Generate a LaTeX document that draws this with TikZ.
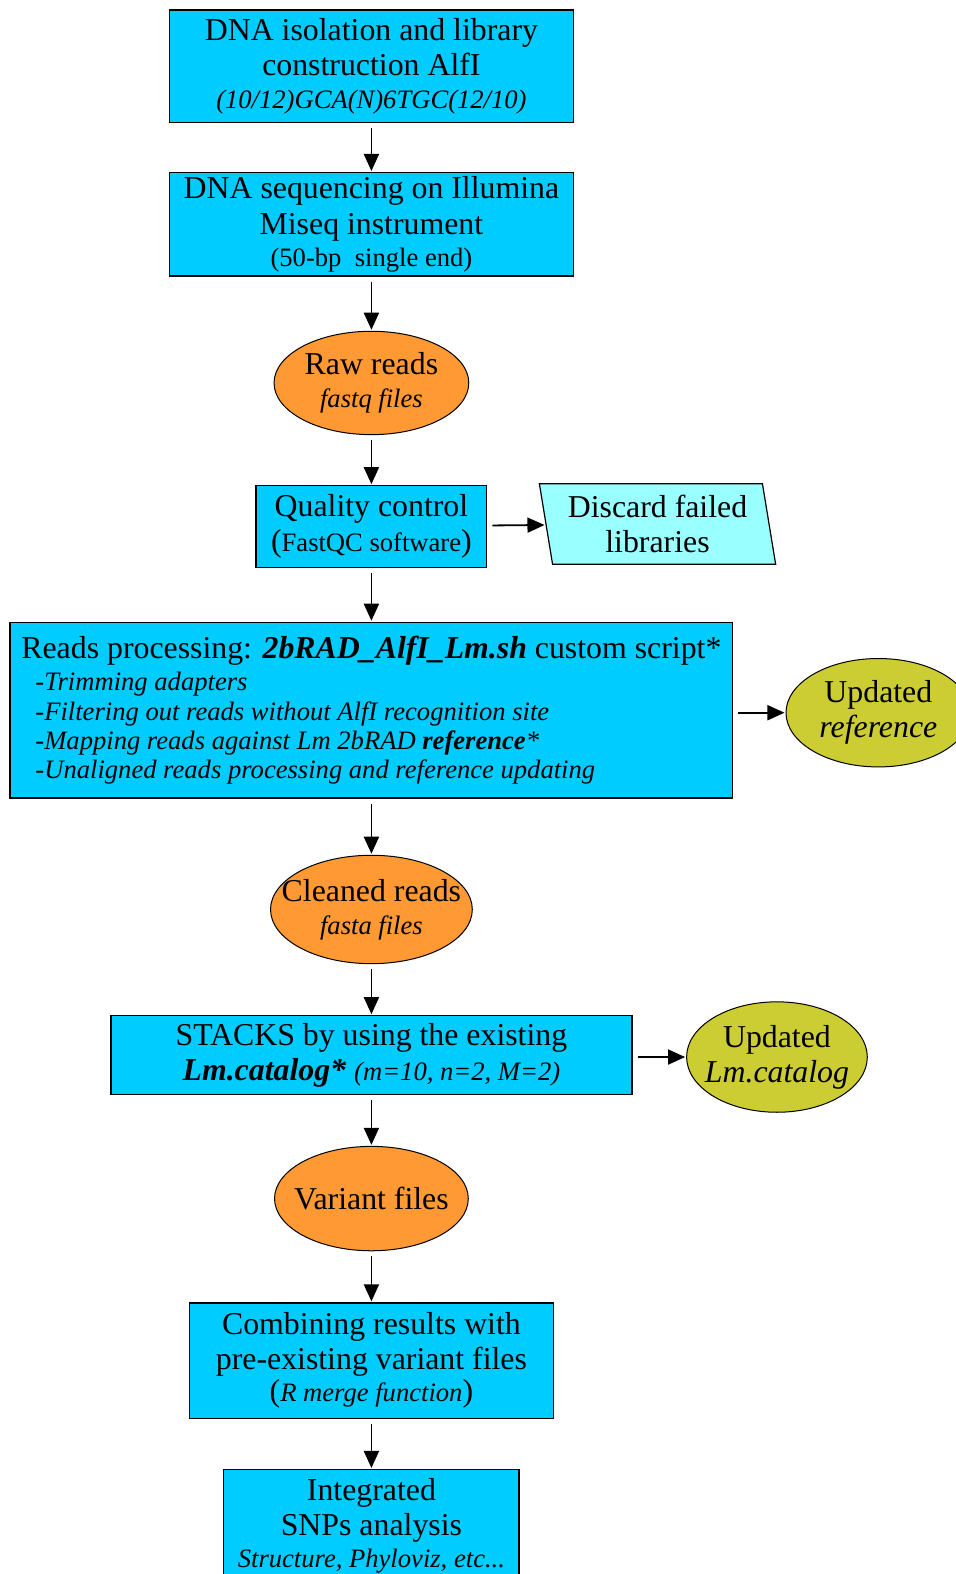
\documentclass[tikz,border=0pt]{standalone}
\usepackage{fontspec}
\setmainfont{Liberation Serif}
\usetikzlibrary{shapes.geometric,arrows.meta}
\definecolor{boxblue}{HTML}{00CCFF}
\definecolor{readorange}{HTML}{FF9933}
\definecolor{updolive}{HTML}{CCCC33}
\definecolor{discardcyan}{HTML}{99FFFF}
\newcommand{\mainsz}{\fontsize{31.7}{35}\selectfont}
\newcommand{\subsz}{\fontsize{26.5}{31}\selectfont}
\tikzset{
  procbox/.style={draw, fill=boxblue, line width=1.2pt, align=center, inner sep=0pt, font=\mainsz},
  readsoval/.style={ellipse, draw, fill=readorange, line width=1pt, align=center, inner sep=0pt, inner xsep=-20pt, font=\mainsz},
  updoval/.style={ellipse, draw, fill=updolive, line width=1pt, align=center, inner sep=0pt, inner xsep=-20pt, font=\mainsz},
  discardbox/.style={trapezium, trapezium left angle=101, trapezium right angle=79, trapezium stretches=true, draw, fill=discardcyan, line width=1.2pt, align=center, inner sep=0pt, font=\mainsz},
  flow/.style={-{Triangle[length=17pt,width=15pt]}, line width=1.8pt, shorten <=5pt, shorten >=1pt}
}
\begin{document}
\begin{tikzpicture}[x=1pt,y=-1pt]
  \useasboundingbox (0,0) rectangle (952,1568);
  % main column
  \node[procbox, minimum width=402, minimum height=112] (iso) at (370,66)
    {DNA isolation and library\\construction AlfI\\[-3pt]{\subsz\itshape (10/12)GCA(N)6TGC(12/10)}};
  \node[procbox, minimum width=402, minimum height=103] (seq) at (370,223.5)
    {DNA sequencing on Illumina\\Miseq instrument\\[-3pt]{\subsz (50-bp\ \ single end)}};
  \node[readsoval, minimum width=194, minimum height=103] (raw) at (370,381.5)
    {Raw reads\\[-2pt]{\subsz\itshape fastq files}};
  \node[procbox, minimum width=230, minimum height=81] (qc) at (370,524.5)
    {Quality control\\({\subsz FastQC software})};
  \node[procbox, minimum width=720, minimum height=175, align=left] (proc) at (370,707.5)
    {Reads processing: \textbf{\textit{2bRAD\_AlfI\_Lm.sh}} custom script*\\[-3pt]
     {\subsz\itshape\hspace*{14pt}-Trimming adapters}\\[-6pt]
     {\subsz\itshape\hspace*{14pt}-Filtering out reads without AlfI recognition site}\\[-6pt]
     {\subsz\itshape\hspace*{14pt}-Mapping reads against Lm 2bRAD \textbf{reference}*}\\[-6pt]
     {\subsz\itshape\hspace*{14pt}-Unaligned reads processing and reference updating}};
  \node[readsoval, minimum width=201, minimum height=108] (clean) at (370,906)
    {Cleaned reads\\[-2pt]{\subsz\itshape fasta files}};
  \node[procbox, minimum width=519, minimum height=78] (stacks) at (370,1051)
    {STACKS by using the existing\\\textbf{\textit{Lm.catalog*}} {\subsz\itshape (m=10, n=2, M=2)}};
  \node[readsoval, minimum width=193, minimum height=104] (variant) at (370,1194)
    {Variant files};
  \node[procbox, minimum width=363, minimum height=115] (merge) at (370,1355.5)
    {Combining results with\\pre-existing variant files\\[-3pt]({\subsz\itshape R merge function})};
  \node[procbox, minimum width=294, minimum height=112] (snps) at (370,1520)
    {Integrated\\SNPs analysis\\[-3pt]{\subsz\itshape Structure, Phyloviz, etc...}};
  % side outputs
  \node[discardbox, minimum width=236, minimum height=80] (discard) at (655,522)
    {Discard failed\\libraries};
  \node[updoval, minimum width=184, minimum height=108] (updref) at (875,710)
    {Updated\\\textit{reference}};
  \node[updoval, minimum width=180, minimum height=110] (updcat) at (774,1053)
    {Updated\\\textit{Lm.catalog}};
  % connectors
  \draw[flow] (iso) -- (seq);
  \draw[flow] (seq) -- (raw);
  \draw[flow] (raw) -- (qc);
  \draw[flow] (qc) -- (proc);
  \draw[flow] (proc) -- (clean);
  \draw[flow] (clean) -- (stacks);
  \draw[flow] (stacks) -- (variant);
  \draw[flow] (variant) -- (merge);
  \draw[flow] (merge) -- (snps);
  \draw[flow] (qc) -- (discard);
  \draw[flow] (proc.east |- updref) -- (updref);
  \draw[flow] (stacks.east |- updcat) -- (updcat);
\end{tikzpicture}
\end{document}
